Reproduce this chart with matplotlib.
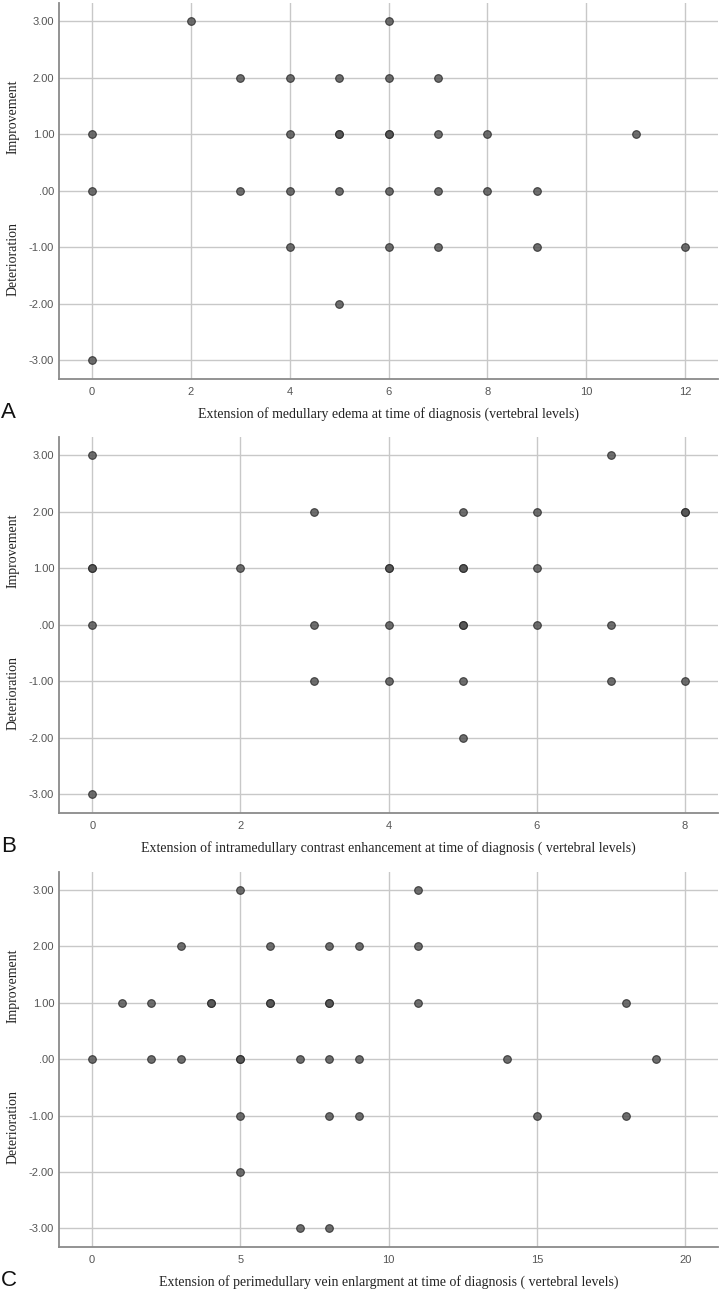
import matplotlib
matplotlib.use("Agg")
import matplotlib.pyplot as plt

# ─── data ────────────────────────────────────────────────────
a_x = [2, 6,
       3, 4, 5, 6, 7,
       0, 4, 5, 5, 6, 6, 7, 8, 11,
       0, 3, 4, 5, 6, 7, 8, 9,
       4, 6, 7, 9, 12,
       5,
       0]
a_y = [3, 3,
       2, 2, 2, 2, 2,
       1, 1, 1, 1, 1, 1, 1, 1, 1,
       0, 0, 0, 0, 0, 0, 0, 0,
       -1, -1, -1, -1, -1,
       -2,
       -3]

b_x = [0, 7,
       3, 5, 6, 8, 8,
       0, 0, 2, 4, 4, 5, 5, 6,
       0, 3, 4, 5, 5, 6, 7,
       3, 4, 5, 7, 8,
       5,
       0]
b_y = [3, 3,
       2, 2, 2, 2, 2,
       1, 1, 1, 1, 1, 1, 1, 1,
       0, 0, 0, 0, 0, 0, 0,
       -1, -1, -1, -1, -1,
       -2,
       -3]

c_x = [5, 11,
       3, 6, 8, 9, 11,
       1, 2, 4, 4, 6, 6, 8, 8, 11, 18,
       0, 2, 3, 5, 5, 7, 8, 9, 14, 19,
       5, 8, 9, 15, 18,
       5,
       7, 8]
c_y = [3, 3,
       2, 2, 2, 2, 2,
       1, 1, 1, 1, 1, 1, 1, 1, 1, 1,
       0, 0, 0, 0, 0, 0, 0, 0, 0, 0,
       -1, -1, -1, -1, -1,
       -2,
       -3, -3]

y_ticks = [-3, -2, -1, 0, 1, 2, 3]
y_labels = ["-3.00", "-2.00", "-1.00", ".00", "1.00", "2.00", "3.00"]

a_xticks = [0, 2, 4, 6, 8, 10, 12]
b_xticks = [0, 2, 4, 6, 8]
c_xticks = [0, 5, 10, 15, 20]

a_title = "Extension of medullary edema at time of diagnosis (vertebral levels)"
b_title = "Extension of intramedullary contrast enhancement at time of diagnosis ( vertebral levels)"
c_title = "Extension of perimedullary vein enlargment at time of diagnosis ( vertebral levels)"

W, H = 721, 1292
fig = plt.figure(figsize=(W / 100, H / 100), dpi=100)
fig.patch.set_facecolor("white")

SERIF = ["Liberation Serif", "DejaVu Serif"]
SANS = ["Liberation Sans", "DejaVu Sans"]


def px_box(top, bottom, left=59, right=718):
    return [left / W, 1 - bottom / H, (right - left) / W, (bottom - top) / H]


panels = [
    # x, y, xticks, xlim, label, letter, top px, bottom px
    (a_x, a_y, a_xticks, (-0.67, 12.67), a_title, "A", 3, 379),
    (b_x, b_y, b_xticks, (-0.45, 8.45), b_title, "B", 437, 813),
    (c_x, c_y, c_xticks, (-1.11, 21.1), c_title, "C", 872, 1247),
]

for xs, ys, xt, xl, label, letter, top, bottom in panels:
    ax = fig.add_axes(px_box(top, bottom))
    ax.set_xlim(*xl)
    ax.set_ylim(-3.33, 3.32)
    ax.set_xticks(xt)
    ax.set_xticklabels([str(v) for v in xt])
    ax.set_yticks(y_ticks)
    ax.set_yticklabels(y_labels)
    ax.grid(True, color="#c8c8c8", linewidth=1.0, zorder=0)
    ax.set_axisbelow(True)
    for side in ("top", "right"):
        ax.spines[side].set_visible(False)
    for side in ("left", "bottom"):
        ax.spines[side].set_color("#8a8a8a")
        ax.spines[side].set_linewidth(1.3)
    ax.tick_params(axis="y", length=0, labelsize=8, labelcolor="#555555", pad=3.5)
    ax.tick_params(axis="x", length=0, labelsize=8, labelcolor="#555555", pad=6)
    for t in ax.get_xticklabels() + ax.get_yticklabels():
        t.set_family(SANS)

    ax.scatter(xs, ys, s=30, facecolor="#555555", edgecolor="#2a2a2a",
               linewidth=0.8, alpha=0.85, zorder=3)

    ax.set_xlabel(label, family=SERIF, fontsize=10, color="#222222", labelpad=7)

    # y-axis side labels
    for frac, txt in ((0.697, "Improvement"), (0.32, "Deterioration")):
        yy = bottom - frac * (bottom - top)
        fig.text(13 / W, 1 - yy / H, txt, rotation=90, ha="center", va="center",
                 family=SERIF, fontsize=10, color="#222222")

    # panel letter
    fig.text(1 / W, 1 - (bottom + 34) / H, letter, ha="left", va="center",
             family=SANS, fontsize=16, color="#111111")

fig.savefig("out.png", dpi=100, facecolor="white")
